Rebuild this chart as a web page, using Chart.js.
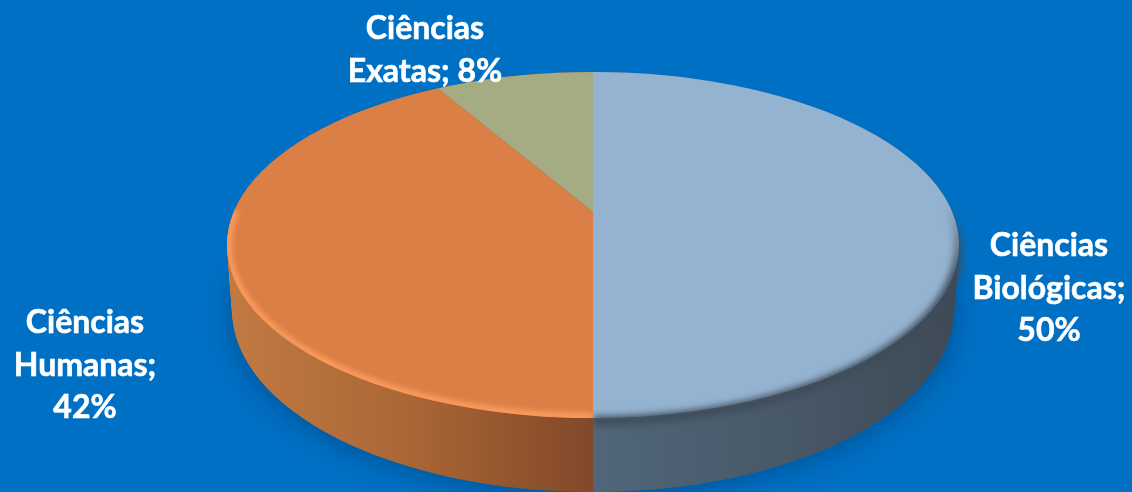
<!DOCTYPE html>
<html>
<head>
<meta charset="utf-8">
<style>
html, body { margin: 0; padding: 0; background: #0070c4; overflow: hidden; }
#wrap { width: 1132px; height: 492px; }
</style>
<script src="https://cdn.jsdelivr.net/npm/chart.js@4/dist/chart.umd.min.js"></script>
</head>
<body>
<div id="wrap"><canvas id="myChart" width="1132" height="492"></canvas></div>
<script>
var categorias = ['Ciências Biológicas', 'Ciências Humanas', 'Ciências Exatas'];
var valores = [50, 42, 8];
var rotulos = [
    ['Ciências', 'Biológicas;', '50%'],
    ['Ciências', 'Humanas;', '42%'],
    ['Ciências', 'Exatas; 8%']
];
var cores = ['#94b3d1', '#da8047', '#a5ac84'];

// top face ellipse, apex sits above its centre because of the perspective
var topo = { x: 593, y: 245, rx: 366, ry: 173 };
var base = { x: 593, y: 310, rx: 361, ry: 182 };
var apice = { x: 593, y: 212, k: 0.4386 };

// side wall gradient per slice, left to right
var paredes = [
    [[0, '#50667a'], [0.4, '#4a5c6c'], [1, '#3e4a56']],
    [[0, '#c27a43'], [0.5, '#aa6635'], [1, '#82482a']],
    [[0, '#7f8566'], [1, '#7f8566']]
];

function elipseEm(ctx, t) {
    ctx.ellipse(topo.x + (base.x - topo.x) * t, topo.y + (base.y - topo.y) * t,
        topo.rx + (base.rx - topo.rx) * t, topo.ry + (base.ry - topo.ry) * t, 0, 0, Math.PI * 2);
}

function desenhaParede(chart) {
    var ctx = chart.ctx;
    var arcos = chart.getDatasetMeta(0).data;

    // shadow on the background
    ctx.save();
    ctx.filter = 'blur(12px)';
    ctx.fillStyle = 'rgba(0, 45, 95, 0.35)';
    ctx.beginPath();
    ctx.ellipse(base.x, base.y + 6, base.rx + 4, base.ry + 2, 0, 0, Math.PI * 2);
    ctx.fill();
    ctx.restore();

    for (var i = 0; i < arcos.length; i++) {
        // only the part of the slice on the front half shows a wall
        var ini = Math.max(arcos[i].startAngle, 0);
        var fim = Math.min(arcos[i].endAngle, Math.PI);
        if (fim <= ini) continue;
        var x1 = topo.x + topo.rx * Math.cos(fim);
        var x2 = topo.x + topo.rx * Math.cos(ini);
        var grad = ctx.createLinearGradient(x1, 0, x2, 0);
        paredes[i].forEach(function(p) { grad.addColorStop(p[0], p[1]); });
        ctx.save();
        ctx.beginPath();
        ctx.rect(x1 - 2, 0, x2 - x1 + 2, 492);
        ctx.clip();
        ctx.fillStyle = grad;
        for (var t = 0; t <= 1.001; t += 0.05) {
            ctx.beginPath();
            elipseEm(ctx, t);
            ctx.fill();
        }
        ctx.restore();
    }
}

function desenhaBorda(chart) {
    var ctx = chart.ctx;

    // dark soft edge on the blue slice, fades out going up the right side
    var fade = ctx.createLinearGradient(0, 205, 0, 275);
    fade.addColorStop(0, 'rgba(63, 76, 89, 0)');
    fade.addColorStop(1, 'rgba(63, 76, 89, 1)');
    ctx.save();
    ctx.beginPath();
    ctx.rect(topo.x, 0, 600, 492);
    ctx.clip();
    ctx.filter = 'blur(3.5px)';
    ctx.strokeStyle = fade;
    ctx.lineWidth = 9;
    ctx.beginPath();
    ctx.ellipse(topo.x, topo.y + 1, topo.rx, topo.ry + 2, 0, -0.25, Math.PI / 2);
    ctx.stroke();
    ctx.restore();

    // light bevel on the orange slice
    ctx.save();
    ctx.beginPath();
    ctx.ellipse(topo.x, topo.y, topo.rx, topo.ry, 0, 0, Math.PI * 2);
    ctx.clip();
    ctx.beginPath();
    ctx.rect(0, 0, topo.x, 492);
    ctx.clip();
    ctx.filter = 'blur(2.5px)';
    ctx.strokeStyle = '#fb9a5c';
    ctx.lineWidth = 8;
    ctx.beginPath();
    ctx.ellipse(topo.x, topo.y, topo.rx - 1, topo.ry - 1, 0, Math.PI / 2, Math.PI + 0.2);
    ctx.stroke();
    ctx.restore();
}

var pizza3d = {
    id: 'pizza3d',
    beforeDatasetsDraw: function(chart) {
        var ctx = chart.ctx;
        var arco = chart.getDatasetMeta(0).data[0];
        desenhaParede(chart);
        ctx.save();
        ctx.beginPath();
        ctx.ellipse(topo.x, topo.y, topo.rx, topo.ry, 0, 0, Math.PI * 2);
        ctx.clip();
        // slices are drawn oversized around the apex and cut by the ellipse
        var s = 520 / arco.outerRadius;
        ctx.translate(apice.x, apice.y);
        ctx.scale(s, s * apice.k);
        ctx.translate(-arco.x, -arco.y);
    },
    afterDatasetsDraw: function(chart) {
        chart.ctx.restore();
        desenhaBorda(chart);
    },
    afterDraw: function(chart) {
        var ctx = chart.ctx;
        // label block: centre x, first baseline
        var blocos = [[1049, 256], [85, 333], [425, 39]];
        ctx.save();
        ctx.fillStyle = '#ffffff';
        ctx.strokeStyle = '#ffffff';
        ctx.lineWidth = 0.6;
        ctx.font = 'bold 32px Lato';
        ctx.textAlign = 'center';
        for (var i = 0; i < rotulos.length; i++) {
            for (var j = 0; j < rotulos[i].length; j++) {
                ctx.fillText(rotulos[i][j], blocos[i][0], blocos[i][1] + j * 42.5);
                ctx.strokeText(rotulos[i][j], blocos[i][0], blocos[i][1] + j * 42.5);
            }
        }
        ctx.restore();
    }
};

new Chart(document.getElementById('myChart').getContext('2d'), {
    type: 'pie',
    data: {
        labels: categorias,
        datasets: [{
            data: valores,
            backgroundColor: cores,
            borderWidth: 0,
            clip: false
        }]
    },
    options: {
        responsive: false,
        animation: false,
        plugins: {
            legend: { display: false },
            tooltip: { enabled: false }
        }
    },
    plugins: [pizza3d]
});
</script>
</body>
</html>
